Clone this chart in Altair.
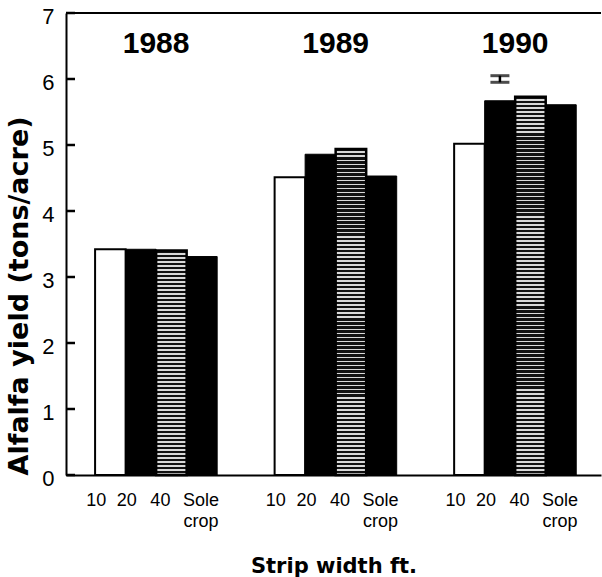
import altair as alt
import pandas as pd

# ---- data ----
years = ["1988", "1989", "1990"]
widths = ["10", "20", "40", "Sole crop"]
yield_1988 = [3.42, 3.42, 3.40, 3.31]
yield_1989 = [4.51, 4.86, 4.94, 4.53]
yield_1990 = [5.02, 5.67, 5.73, 5.61]
y_ticks = [0, 1, 2, 3, 4, 5, 6, 7]
lsd_year = ["1990"]
lsd_width = ["20"]
lsd_low = [5.95]
lsd_high = [6.05]

rows = []
for yr, vals in zip(years, [yield_1988, yield_1989, yield_1990]):
    for w, v in zip(widths, vals):
        rows.append({"year": yr, "width": w, "yield": v})
df = pd.DataFrame(rows)
lsd_df = pd.DataFrame({"year": lsd_year, "width": lsd_width,
                       "yield": lsd_low, "yield_hi": lsd_high})
tick_df = pd.DataFrame({"yield": y_ticks})
year_df = pd.DataFrame({"year": years})
top_df = pd.DataFrame({"yield": [max(y_ticks)]})

H_PLOT = 461  # expected plot height, used for stripe density
YMAX = 7
Y_TITLE = "Alfalfa yield (tons/acre)"

x_scale = alt.Scale(domain=years, paddingInner=0.32, paddingOuter=0.15, align=0.54)
xo_scale = alt.Scale(domain=widths, paddingInner=0, paddingOuter=0)
y_scale = alt.Scale(domain=[0, YMAX], nice=False, zero=True)

x_axis = alt.Axis(labels=False, ticks=False, grid=False, domain=True,
                  domainColor="black", domainWidth=2,
                  title="Strip width ft.", titleFont="DejaVu Sans",
                  titleFontSize=21, titleFontWeight="bold", titleColor="black",
                  titlePadding=80)
y_axis = alt.Axis(values=y_ticks, format="d", ticks=False, grid=False,
                  labelPadding=12,
                  labelFont="Liberation Sans", labelFontSize=22, labelColor="black",
                  labelOffset=3,
                  domainColor="black", domainWidth=2,
                  title=Y_TITLE, titleFont="DejaVu Sans", titleFontSize=27,
                  titleFontWeight="bold", titleColor="black", titlePadding=8,
                  titleAnchor="start")

X = alt.X("year:N", scale=x_scale, axis=x_axis, sort=years)
XO = alt.XOffset("width:N", scale=xo_scale, sort=widths)


def Y(field):
    return alt.Y(field, scale=y_scale, axis=y_axis, title=Y_TITLE)


base = alt.Chart(df).encode(x=X, xOffset=XO, y=Y("yield:Q"))

white_bars = base.transform_filter(alt.datum.width == "10").mark_bar(
    fill="white", stroke="black", strokeWidth=2)
black_bars = base.transform_filter(
    alt.FieldOneOfPredicate(field="width", oneOf=["20", "Sole crop"])
).mark_bar(fill="black", stroke="black", strokeWidth=1)


def stripes(value, period=4.0, light_frac=0.38):
    h = value / YMAX * H_PLOT
    n = max(1, int(round(h / period)))
    stops = [alt.GradientStop(offset=0, color="#111111")]
    for k in range(n):
        a = k / n
        b = (k + (1 - light_frac)) / n
        c = (k + 1) / n
        stops += [
            alt.GradientStop(offset=a, color="#111111"),
            alt.GradientStop(offset=b, color="#111111"),
            alt.GradientStop(offset=b, color="#d9d9d9"),
            alt.GradientStop(offset=c, color="#d9d9d9"),
        ]
    return alt.LinearGradient(gradient="linear", stops=stops,
                              x1=0, x2=0, y1=0, y2=1)


striped_layers = []
for yr, vals in zip(years, [yield_1988, yield_1989, yield_1990]):
    v = vals[widths.index("40")]
    striped_layers.append(
        base.transform_filter((alt.datum.width == "40") & (alt.datum.year == yr))
        .mark_bar(fill=stripes(v), stroke="black", strokeWidth=2.5)
    )

lsd_base = alt.Chart(lsd_df).encode(x=X, xOffset=XO)
lsd_rule = lsd_base.mark_rule(color="black", strokeWidth=2.5).encode(
    y=Y("yield:Q"), y2="yield_hi:Q")
lsd_cap_lo = lsd_base.mark_tick(color="black", size=19,
                                thickness=3).encode(y=Y("yield:Q"))
lsd_cap_hi = lsd_base.mark_tick(color="black", size=19,
                                thickness=3).encode(y=Y("yield_hi:Q"))

year_labels = alt.Chart(year_df).mark_text(
    font="Liberation Sans", fontWeight="bold", fontSize=30, color="black",
    baseline="middle"
).encode(x=X, y=alt.datum(6.53), text="year:N")

label_dx = [-14, -14, -11, -1]
width_label_layers = []
for w, dx in zip(widths, label_dx):
    width_label_layers.append(
        alt.Chart(df).transform_filter(alt.datum.width == w).mark_text(
            font="Liberation Sans", fontSize=18, color="black", baseline="top",
            lineBreak=" ", lineHeight=21, dx=dx
        ).encode(x=X, xOffset=XO, y=alt.value(H_PLOT + 18), text="width:N")
    )

top_rule = alt.Chart(top_df).mark_rule(color="black", strokeWidth=2).encode(
    y=Y("yield:Q"))

inward_ticks = alt.Chart(tick_df).mark_rule(
    color="black", strokeWidth=2.5
).encode(y=Y("yield:Q"), x=alt.value(0), x2=alt.value(9))

chart = alt.layer(
    white_bars, black_bars, *striped_layers,
    lsd_rule, lsd_cap_lo, lsd_cap_hi,
    year_labels, *width_label_layers, top_rule, inward_ticks
).properties(
    width=602, height=577,
    autosize=alt.AutoSizeParams(type="fit", contains="padding"),
    padding={"left": 5, "top": 5, "right": 0, "bottom": 1},
    background="white"
).configure_view(stroke=None)

chart.save("out.html", embed_options={"renderer": "svg", "actions": False})
